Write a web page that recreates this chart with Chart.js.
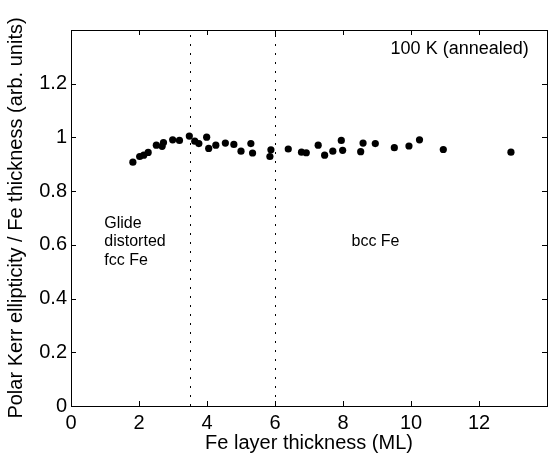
<!DOCTYPE html>
<html>
<head>
<title>Polar Kerr ellipticity vs Fe thickness</title>
<script src="https://cdn.jsdelivr.net/npm/chart.js@4.4.0/dist/chart.umd.min.js"></script>
<style>
	body { margin: 0; background: #fff; }
	canvas { display: block; }
</style>
</head>
<body>
<canvas id="myChart" width="551" height="458"></canvas>
<script>
// values
let thickness = [1.82, 2.02, 2.14, 2.27, 2.51, 2.68, 2.72, 2.99, 3.19, 3.48,
	3.64, 3.76, 3.99, 4.05, 4.26, 4.54, 4.79, 5.0, 5.29, 5.34,
	5.85, 5.88, 6.39, 6.78, 6.92, 7.27, 7.46, 7.70, 7.95, 7.99,
	8.52, 8.59, 8.95, 9.51, 9.94, 10.25, 10.95, 12.94]
let ellipticity = [0.908, 0.929, 0.934, 0.944, 0.971, 0.967, 0.981, 0.991, 0.989, 1.005,
	0.986, 0.977, 1.001, 0.959, 0.971, 0.979, 0.974, 0.949, 0.977, 0.942,
	0.929, 0.954, 0.957, 0.945, 0.943, 0.971, 0.934, 0.949, 0.989, 0.952,
	0.947, 0.979, 0.977, 0.962, 0.968, 0.991, 0.955, 0.945]
let phaseBounds = [3.5, 6]
let xTicks = [0, 2, 4, 6, 8, 10, 12]
let yTicks = [0, 0.2, 0.4, 0.6, 0.8, 1, 1.2]
let notes = [
	{ text: ['100 K (annealed)'], x: 9.4, y: 1.33 },
	{ text: ['Glide', 'distorted', 'fcc Fe'], x: 0.98, y: 0.68 },
	{ text: ['bcc Fe'], x: 8.25, y: 0.613 }
]

let font = "'Liberation Sans', Arial, Helvetica, sans-serif"
Chart.defaults.font.family = font
Chart.defaults.color = '#000'

let points = thickness.map((x, i) => ({ x: x, y: ellipticity[i] }))

// frame, inside ticks, dotted phase lines and labels
let extras = {
	id: 'extras',
	afterDatasetsDraw(chart) {
		let c = chart.ctx
		let a = chart.chartArea
		let xs = chart.scales.x
		let ys = chart.scales.y
		c.save()
		c.strokeStyle = '#000'
		c.lineWidth = 1
		c.setLineDash([2, 7])
		phaseBounds.forEach(v => {
			let px = Math.round(xs.getPixelForValue(v)) + 0.5
			c.beginPath()
			c.moveTo(px, a.bottom)
			c.lineTo(px, a.top)
			c.stroke()
		})
		c.setLineDash([])
		c.strokeRect(Math.round(a.left) + 0.5, Math.round(a.top) + 0.5, Math.round(a.right - a.left), Math.round(a.bottom - a.top))
		c.beginPath()
		xTicks.forEach(v => {
			let px = Math.round(xs.getPixelForValue(v)) + 0.5
			c.moveTo(px, a.bottom); c.lineTo(px, a.bottom - 5)
			c.moveTo(px, a.top); c.lineTo(px, a.top + 5)
		})
		yTicks.forEach(v => {
			let py = Math.round(ys.getPixelForValue(v)) + 0.5
			c.moveTo(a.left, py); c.lineTo(a.left + 5, py)
			c.moveTo(a.right, py); c.lineTo(a.right - 5, py)
		})
		c.stroke()
		c.fillStyle = '#000'
		c.textBaseline = 'middle'
		notes.forEach((n, k) => {
			c.font = (k == 0 ? '18px ' : '16px ') + font
			n.text.forEach((t, j) => {
				c.fillText(t, xs.getPixelForValue(n.x), ys.getPixelForValue(n.y) + j * 18.5)
			})
		})
		c.restore()
	}
}

let ctx = document.getElementById('myChart').getContext('2d')
let chart = new Chart(ctx, {
	type: 'scatter',
	data: {
		datasets: [{
			data: points,
			backgroundColor: '#000',
			borderWidth: 0,
			pointRadius: 3.6
		}]
	},
	options: {
		responsive: false,
		animation: false,
		devicePixelRatio: 1,
		layout: { padding: { top: 30, right: 4, left: 0, bottom: 0 } },
		plugins: { legend: { display: false }, tooltip: { enabled: false } },
		scales: {
			x: {
				type: 'linear',
				min: 0,
				max: 14,
				afterBuildTicks: s => { s.ticks = xTicks.map(v => ({ value: v })) },
				afterFit: s => { s.height = 52 },
				grid: { display: false },
				border: { display: false },
				ticks: { font: { size: 20 }, padding: -3, maxRotation: 0, autoSkip: false },
				title: { display: true, text: 'Fe layer thickness (ML)', font: { size: 20 }, padding: { top: 0, bottom: 3 } }
			},
			y: {
				min: 0,
				max: 1.4,
				afterBuildTicks: s => { s.ticks = yTicks.map(v => ({ value: v })) },
				afterFit: s => { s.width = 71 },
				grid: { display: false },
				border: { display: false },
				ticks: { font: { size: 20 }, padding: -4, callback: v => String(Number(v.toFixed(1))) },
				title: { display: true, text: 'Polar Kerr ellipticity / Fe thickness (arb. units)', font: { size: 20 }, padding: { top: 4, bottom: 0 } }
			}
		}
	},
	plugins: [extras]
})
</script>
</body>
</html>
